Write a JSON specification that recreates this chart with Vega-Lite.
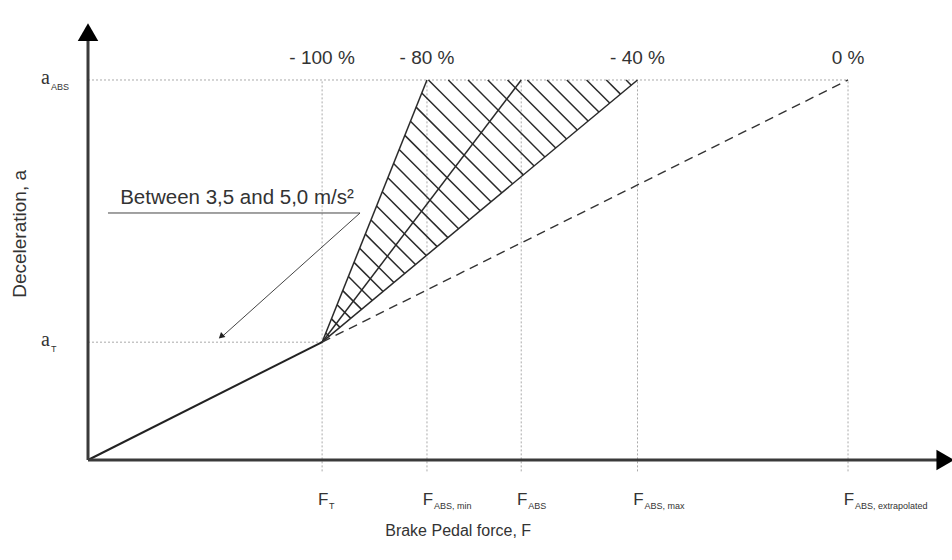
{
  "$schema": "https://vega.github.io/schema/vega-lite/v6.json",
  "width": 952,
  "height": 560,
  "autosize": {"type": "none"},
  "padding": 0,
  "background": "white",
  "config": {"view": {"stroke": null}, "text": {"font": "Liberation Sans", "color": "#333"}},
  "datasets": {
    "grid": [
      {"x": 30.8, "y": -3, "x2": 30.8, "y2": 100},
      {"x": 44.6, "y": -3, "x2": 44.6, "y2": 100},
      {"x": 57, "y": -3, "x2": 57, "y2": 100},
      {"x": 72.3, "y": -3, "x2": 72.3, "y2": 100},
      {"x": 100, "y": -3, "x2": 100, "y2": 100},
      {"x": 0, "y": 100, "x2": 100, "y2": 100},
      {"x": 0, "y": 31, "x2": 30.8, "y2": 31}
    ],
    "hatch": [
      {"x": 30.8, "y": 31, "x2": 44.6, "y2": 100},
      {"x": 30.8, "y": 31, "x2": 57, "y2": 100},
      {"x": 30.8, "y": 31, "x2": 72.3, "y2": 100},
      {"x": 31.29, "y": 33.43, "x2": 31.73, "y2": 32.54},
      {"x": 32.03, "y": 37.14, "x2": 33.15, "y2": 34.90},
      {"x": 32.77, "y": 40.86, "x2": 34.57, "y2": 37.26},
      {"x": 33.51, "y": 44.57, "x2": 35.99, "y2": 39.63},
      {"x": 34.26, "y": 48.29, "x2": 37.41, "y2": 41.99},
      {"x": 35.00, "y": 52.00, "x2": 38.83, "y2": 44.35},
      {"x": 35.74, "y": 55.71, "x2": 40.25, "y2": 46.71},
      {"x": 36.49, "y": 59.43, "x2": 41.67, "y2": 49.07},
      {"x": 37.23, "y": 63.14, "x2": 43.09, "y2": 51.43},
      {"x": 37.97, "y": 66.86, "x2": 44.51, "y2": 53.79},
      {"x": 38.71, "y": 70.57, "x2": 45.93, "y2": 56.15},
      {"x": 39.46, "y": 74.29, "x2": 47.35, "y2": 58.51},
      {"x": 40.20, "y": 78.00, "x2": 48.76, "y2": 60.87},
      {"x": 40.94, "y": 81.71, "x2": 50.18, "y2": 63.23},
      {"x": 41.69, "y": 85.43, "x2": 51.60, "y2": 65.59},
      {"x": 42.43, "y": 89.14, "x2": 53.02, "y2": 67.95},
      {"x": 43.17, "y": 92.86, "x2": 54.44, "y2": 70.31},
      {"x": 43.91, "y": 96.57, "x2": 55.86, "y2": 72.67},
      {"x": 44.80, "y": 100, "x2": 57.28, "y2": 75.03},
      {"x": 47.40, "y": 100, "x2": 58.70, "y2": 77.39},
      {"x": 50.00, "y": 100, "x2": 60.12, "y2": 79.75},
      {"x": 52.60, "y": 100, "x2": 61.54, "y2": 82.11},
      {"x": 55.20, "y": 100, "x2": 62.96, "y2": 84.48},
      {"x": 57.80, "y": 100, "x2": 64.38, "y2": 86.84},
      {"x": 60.40, "y": 100, "x2": 65.80, "y2": 89.20},
      {"x": 63.00, "y": 100, "x2": 67.22, "y2": 91.56},
      {"x": 65.60, "y": 100, "x2": 68.64, "y2": 93.92},
      {"x": 68.20, "y": 100, "x2": 70.06, "y2": 96.28},
      {"x": 70.80, "y": 100, "x2": 71.48, "y2": 98.64}
    ],
    "solid": [{"x": 0, "y": 0, "x2": 30.8, "y2": 31}],
    "dashed": [{"x": 30.8, "y": 31, "x2": 100, "y2": 100}],
    "annot": [
      {"x": 2.63, "y": 65, "x2": 35.79, "y2": 65},
      {"x": 35.79, "y": 65, "x2": 17.6, "y2": 32.4}
    ],
    "annotHead": [{"x": 17.5, "y": 32.5}],
    "annotText": [{"x": 19.6, "y": 67.3, "label": "Between 3,5 and 5,0 m/s²"}],
    "axes": [
      {"x": 0, "y": 0, "x2": 112, "y2": 0},
      {"x": 0, "y": 0, "x2": 0, "y2": 111}
    ],
    "headRight": [{"x": 112.8, "y": 0}],
    "headUp": [{"x": 0, "y": 112.6}],
    "pct": [
      {"x": 30.8, "y": 105.8, "label": "- 100 %"},
      {"x": 44.6, "y": 105.8, "label": "- 80 %"},
      {"x": 72.3, "y": 105.8, "label": "- 40 %"},
      {"x": 100, "y": 105.8, "label": "0 %"}
    ],
    "ylab": [
      {"x": -5, "y": 100, "sub": "ABS"},
      {"x": -5, "y": 31, "sub": "T"}
    ],
    "xlab": [
      {"x": 30.8, "y": -10.5, "sub": "T"},
      {"x": 44.6, "y": -10.5, "sub": "ABS, min"},
      {"x": 57, "y": -10.5, "sub": "ABS"},
      {"x": 72.3, "y": -10.5, "sub": "ABS, max"},
      {"x": 100, "y": -10.5, "sub": "ABS, extrapolated"}
    ],
    "xtitle": [{"x": 48.7, "y": -18.6, "label": "Brake Pedal force, F"}],
    "ytitle": [{"x": -8.95, "y": 59.5, "label": "Deceleration, a"}]
  },
  "encoding": {
    "x": {"field": "x", "type": "quantitative", "scale": {"domain": [-11.58, 113.68], "nice": false, "zero": false}, "axis": null},
    "y": {"field": "y", "type": "quantitative", "scale": {"domain": [-26.32, 121.05], "nice": false, "zero": false}, "axis": null}
  },
  "layer": [
    {"data": {"name": "grid"}, "mark": {"type": "rule", "color": "#aaa", "strokeWidth": 1, "strokeDash": [2, 2]},
     "encoding": {"x2": {"field": "x2"}, "y2": {"field": "y2"}}},
    {"data": {"name": "hatch"}, "mark": {"type": "rule", "color": "#2a2a2a", "strokeWidth": 1.5},
     "encoding": {"x2": {"field": "x2"}, "y2": {"field": "y2"}}},
    {"data": {"name": "solid"}, "mark": {"type": "rule", "color": "#222", "strokeWidth": 2},
     "encoding": {"x2": {"field": "x2"}, "y2": {"field": "y2"}}},
    {"data": {"name": "dashed"}, "mark": {"type": "rule", "color": "#333", "strokeWidth": 1.4, "strokeDash": [9, 6]},
     "encoding": {"x2": {"field": "x2"}, "y2": {"field": "y2"}}},
    {"data": {"name": "annot"}, "mark": {"type": "rule", "color": "#444", "strokeWidth": 1},
     "encoding": {"x2": {"field": "x2"}, "y2": {"field": "y2"}}},
    {"data": {"name": "annotHead"}, "mark": {"type": "point", "shape": "triangle-up", "angle": 229, "size": 45, "filled": true, "color": "#222", "opacity": 1}},
    {"data": {"name": "annotText"}, "mark": {"type": "text", "fontSize": 20.5, "align": "center", "baseline": "alphabetic"},
     "encoding": {"text": {"field": "label"}}},
    {"data": {"name": "axes"}, "mark": {"type": "rule", "color": "#3a3a3a", "strokeWidth": 3},
     "encoding": {"x2": {"field": "x2"}, "y2": {"field": "y2"}}},
    {"data": {"name": "headRight"}, "mark": {"type": "point", "shape": "triangle-right", "size": 420, "filled": true, "color": "#000", "opacity": 1}},
    {"data": {"name": "headUp"}, "mark": {"type": "point", "shape": "triangle-up", "size": 420, "filled": true, "color": "#000", "opacity": 1}},
    {"data": {"name": "pct"}, "mark": {"type": "text", "fontSize": 19, "align": "center", "baseline": "middle"},
     "encoding": {"text": {"field": "label"}}},
    {"data": {"name": "ylab"}, "mark": {"type": "text", "fontSize": 20, "font": "Liberation Serif", "align": "right", "baseline": "middle", "dy": -2},
     "encoding": {"text": {"value": "a"}}},
    {"data": {"name": "ylab"}, "mark": {"type": "text", "fontSize": 9, "align": "left", "baseline": "middle", "dx": 1, "dy": 7},
     "encoding": {"text": {"field": "sub"}}},
    {"data": {"name": "xlab"}, "mark": {"type": "text", "fontSize": 17, "align": "center", "baseline": "middle", "dx": 1},
     "encoding": {"text": {"value": "F"}}},
    {"data": {"name": "xlab"}, "mark": {"type": "text", "fontSize": 9, "align": "left", "baseline": "middle", "dx": 7, "dy": 6},
     "encoding": {"text": {"field": "sub"}}},
    {"data": {"name": "xtitle"}, "mark": {"type": "text", "fontSize": 16, "align": "center", "baseline": "middle"},
     "encoding": {"text": {"field": "label"}}},
    {"data": {"name": "ytitle"}, "mark": {"type": "text", "fontSize": 19, "align": "center", "baseline": "middle", "angle": 270},
     "encoding": {"text": {"field": "label"}}}
  ]
}
